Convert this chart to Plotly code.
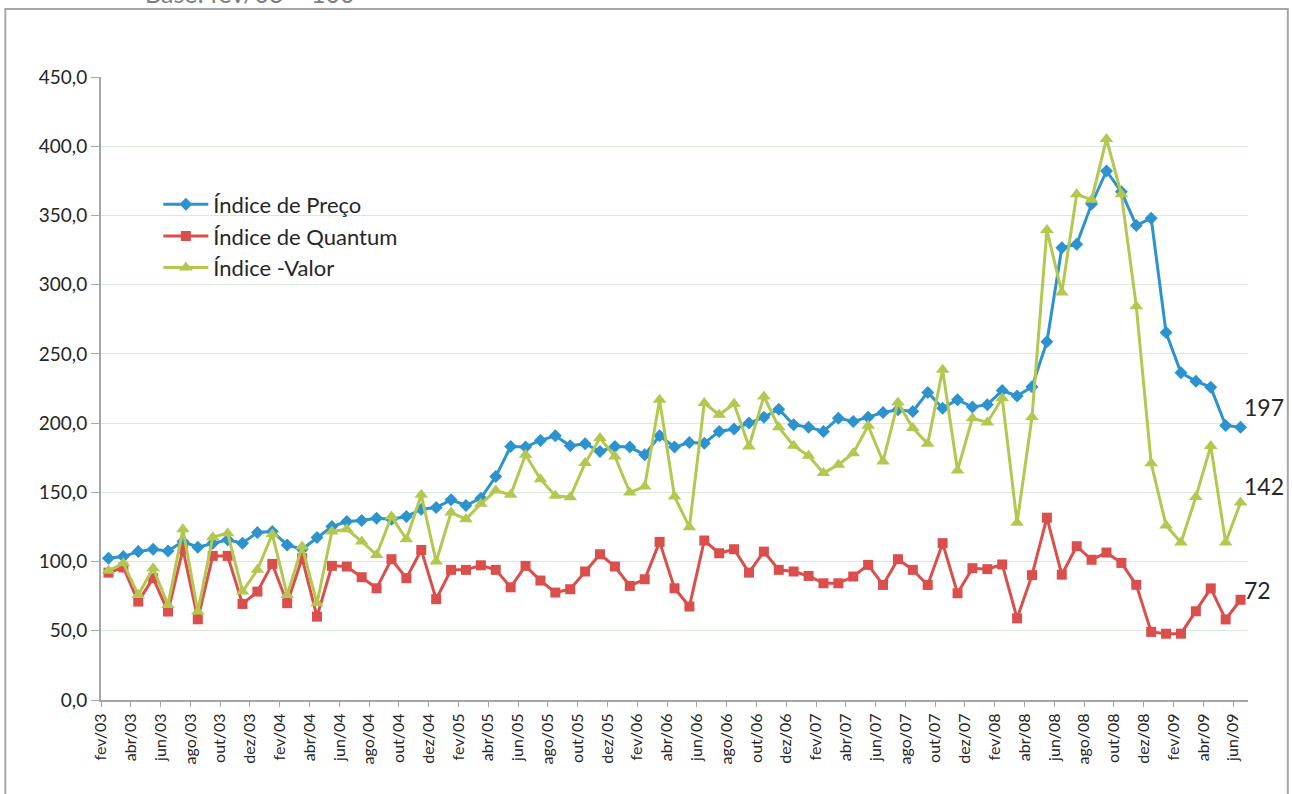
import plotly.graph_objects as go

# meses: fev/03 .. jun/09
nomes = ['jan', 'fev', 'mar', 'abr', 'mai', 'jun', 'jul', 'ago', 'set', 'out', 'nov', 'dez']
meses = []
for ano in range(2003, 2010):
    for m, nome in enumerate(nomes):
        if ano == 2003 and m < 1:
            continue
        if ano == 2009 and m > 5:
            continue
        meses.append('%s/%02d' % (nome, ano % 100))

preco = [102.4, 103.6, 107.2, 108.9, 107.7, 114.5, 110.4, 113.3, 115.7, 113.3, 121.0,
         121.7, 112.0, 108.9, 117.3, 125.3, 128.9, 129.6, 131.3, 130.6, 132.5, 137.8,
         139.0, 144.6, 140.5, 145.8, 161.4, 183.1, 182.7, 187.5, 190.8, 183.6, 185.1,
         179.5, 183.1, 182.7, 177.1, 190.8, 182.7, 186.0, 185.5, 194.0,
         195.7, 200.0, 204.3, 210.1, 198.8, 197.1, 194.0, 203.6, 201.2, 204.3, 207.7,
         209.6, 208.4, 222.2, 210.8, 216.9, 211.6, 213.3,
         223.5, 219.6, 226.2, 258.7, 326.6, 329.2, 358.3, 382.1, 367.1, 342.8, 348.0,
         265.4, 236.3, 230.3, 225.9, 198.3, 197.0]

quantum = [92.0, 95.7, 71.1, 88.0, 63.9, 108.9, 58.3, 104.1, 104.1, 69.4, 78.3,
           98.3, 69.9, 102.4, 60.2, 96.9, 96.4, 88.7, 80.7, 101.7, 88.0, 108.4,
           72.8, 94.0, 94.0, 97.3, 94.0, 81.4, 96.9, 86.3, 77.6, 80.0, 92.8,
           105.3, 96.4, 82.4, 87.2, 114.2, 80.7, 67.5, 115.2, 106.0,
           108.9, 92.0, 107.2, 94.0, 92.8, 89.6, 84.3, 84.3, 89.2, 97.6, 83.1,
           101.7, 94.0, 83.1, 113.3, 77.1, 95.2, 94.5,
           97.9, 59.0, 90.2, 131.7, 90.5, 111.1, 101.3, 106.5, 99.0, 83.2, 49.2,
           47.9, 47.9, 64.1, 80.6, 58.2, 72.4]

valor = [93.3, 98.8, 75.9, 95.2, 68.7, 123.4, 63.9, 117.6, 120.5, 78.3, 94.0,
         119.8, 75.9, 110.8, 69.9, 121.7, 123.4, 114.5, 104.8, 132.5, 116.1, 148.2,
         100.0, 135.4, 130.6, 141.7, 151.3, 148.2, 177.1, 159.5, 147.5, 146.5, 171.1,
         189.2, 175.9, 149.9, 154.2, 216.9, 147.0, 124.8, 214.5, 206.0,
         214.0, 183.1, 219.3, 197.1, 183.6, 176.4, 163.9, 169.9, 178.3, 198.1, 172.3,
         214.9, 196.4, 185.1, 238.6, 165.8, 203.6, 200.5,
         218.0, 128.0, 204.4, 339.5, 294.3, 365.3, 361.4, 405.3, 365.3, 284.5, 171.0,
         126.1, 113.7, 146.7, 183.4, 113.7, 142.6]

rotulos_finais = ['197', '142', '72']

FONTE = 'Lato'
AZUL = '#2C93CF'
VERMELHO = '#DA4F4B'
VERDE = '#B4C74F'
CINZA = '#A6A6A6'

x = list(range(len(meses)))

fig = go.Figure()
fig.add_trace(go.Scatter(x=x, y=preco, mode='lines+markers', name='Índice de Preço',
                         line=dict(color=AZUL, width=3),
                         marker=dict(symbol='diamond', size=10, color=AZUL)))
fig.add_trace(go.Scatter(x=x, y=quantum, mode='lines+markers', name='Índice de Quantum',
                         line=dict(color=VERMELHO, width=3),
                         marker=dict(symbol='square', size=10, color=VERMELHO)))
fig.add_trace(go.Scatter(x=x, y=valor, mode='lines+markers', name='Índice -Valor',
                         line=dict(color=VERDE, width=3),
                         marker=dict(symbol='triangle-up', size=12, color=VERDE)))

# rotulos do ultimo ponto
for serie, txt, dy in zip([preco, valor, quantum], rotulos_finais, [20, 17, 10]):
    fig.add_annotation(x=x[-1], y=serie[-1], text=txt, showarrow=False,
                       xanchor='left', xshift=1, yshift=dy,
                       font=dict(family=FONTE, size=23, color='#262626'))

# texto cortado no topo
fig.add_annotation(xref='paper', yref='paper', x=0.037, y=1.1075, text='Base: fev/03 = 100',
                   showarrow=False, xanchor='left', yanchor='bottom',
                   font=dict(family=FONTE, size=25, color='#7F7F7F'))

# moldura do grafico
fig.add_shape(type='rect', xref='paper', yref='paper', x0=-0.0834, x1=1.0347,
              y0=-0.3, y1=1.109, line=dict(color=CINZA, width=2), layer='below')

fig.update_layout(
    width=1292, height=794,
    margin=dict(l=101, r=44, t=77, b=94),
    plot_bgcolor='white', paper_bgcolor='white',
    separators=',.',
    font=dict(family=FONTE, color='#404040'),
    legend=dict(x=0.05, y=0.829, xanchor='left', yanchor='top',
                bgcolor='rgba(0,0,0,0)', font=dict(size=22, color='#262626'),
                itemwidth=45, tracegroupgap=0),
    showlegend=True,
)
fig.update_xaxes(range=[-0.5, len(meses) - 0.5],
                 tickvals=[i - 0.5 for i in range(0, len(meses), 2)],
                 ticktext=meses[::2], tickangle=-90,
                 ticks='outside', ticklen=5, tickcolor=CINZA,
                 showline=True, linecolor=CINZA, linewidth=2,
                 showgrid=False, zeroline=False,
                 tickfont=dict(size=16, color='#262626'))
fig.update_yaxes(range=[0, 450], dtick=50, tickformat='.1f',
                 ticks='outside', ticklen=8, tickcolor=CINZA,
                 showline=True, linecolor=CINZA, linewidth=2,
                 showgrid=True, gridcolor='#D6EBDC', gridwidth=1, zeroline=False,
                 tickfont=dict(size=19, color='#262626'))

fig.write_html("out.html", config={'displayModeBar': False},
               post_script="document.body.style.margin='0px';")
